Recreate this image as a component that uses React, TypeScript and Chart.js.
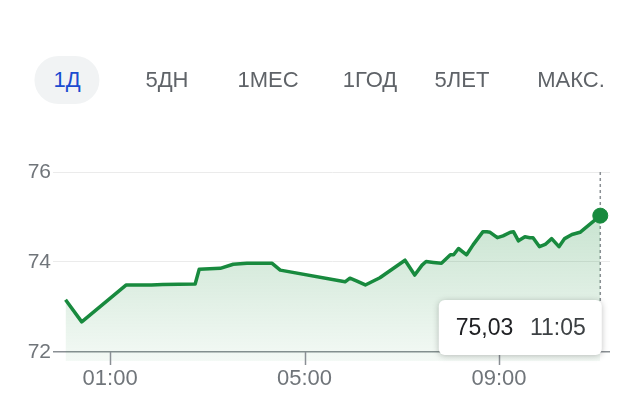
import React, { useEffect, useRef } from "react";
import { Chart, registerables } from "chart.js";

Chart.register(...registerables);

// ---- data ----
const times: string[] = [
  "00:05", "00:25", "01:20", "01:51", "02:05", "02:45", "02:50", "03:16", "03:32", "03:49",
  "04:20", "04:30", "05:50", "05:56", "06:04", "06:15", "06:33", "07:04", "07:16", "07:25",
  "07:30", "07:39", "07:49", "08:00", "08:04", "08:10", "08:20", "08:28", "08:40", "08:45",
  "08:49", "08:58", "09:05", "09:14", "09:18", "09:24", "09:32", "09:38", "09:42", "09:50",
  "09:57", "10:05", "10:14", "10:21", "10:30", "10:40", "11:05",
];
const prices: number[] = [
  73.16, 72.67, 73.49, 73.49, 73.5, 73.51, 73.84, 73.86, 73.95, 73.97,
  73.97, 73.82, 73.56, 73.64, 73.58, 73.49, 73.65, 74.04, 73.71, 73.93,
  74.01, 73.99, 73.97, 74.16, 74.16, 74.3, 74.16, 74.38, 74.67, 74.67,
  74.66, 74.54, 74.58, 74.66, 74.67, 74.47, 74.56, 74.54, 74.54, 74.34,
  74.39, 74.52, 74.34, 74.52, 74.61, 74.66, 75.03,
];
const xTickLabels: string[] = ["01:00", "05:00", "09:00"];
const yTickValues: number[] = [72, 74, 76];
const rangeLabels: string[] = ["1Д", "5ДН", "1МЕС", "1ГОД", "5ЛЕТ", "МАКС."];
const activeRange = "1Д";

// ---- layout / style ----
const rangeCenters = [67, 167, 268, 370, 462, 571];
const GREEN = "#188a3e";
const FONT = "'Liberation Sans', Arial, sans-serif";

const toMin = (t: string) => {
  const [h, m] = t.split(":").map(Number);
  return h * 60 + m;
};
const fmtMin = (v: number) => {
  const h = Math.floor(v / 60);
  const m = Math.round(v - h * 60);
  return String(h).padStart(2, "0") + ":" + String(m).padStart(2, "0");
};

const overlayPlugin = {
  id: "overlay",
  beforeDatasetsDraw(chart: any) {
    const { ctx, chartArea, scales } = chart;
    const meta = chart.getDatasetMeta(0);
    const last = meta.data[meta.data.length - 1];
    const y72 = scales.y.getPixelForValue(yTickValues[0]);
    ctx.save();
    ctx.setLineDash([3, 3]);
    ctx.strokeStyle = "#8a8f94";
    ctx.lineWidth = 1.5;
    ctx.beginPath();
    ctx.moveTo(last.x, chartArea.top);
    ctx.lineTo(last.x, y72 - 50);
    ctx.stroke();
    ctx.restore();
  },
  afterDatasetsDraw(chart: any) {
    const { ctx, chartArea, scales } = chart;
    const xs = scales.x;
    const ys = scales.y;
    const y72 = ys.getPixelForValue(yTickValues[0]);
    // x tick marks
    ctx.save();
    ctx.strokeStyle = "#8a8f94";
    ctx.lineWidth = 1.5;
    xTickLabels.forEach((l) => {
      const px = Math.round(xs.getPixelForValue(toMin(l))) + 0.5;
      ctx.beginPath();
      ctx.moveTo(px, y72);
      ctx.lineTo(px, chartArea.bottom + 4);
      ctx.stroke();
    });
    ctx.restore();

    // tooltip box
    const meta = chart.getDatasetMeta(0);
    const idx = meta.data.length - 1;
    const last = meta.data[idx];
    const right = last.x + 1.5;
    const w = 163;
    const h = 55;
    const left = right - w;
    const top = y72 - 52;
    ctx.save();
    ctx.shadowColor = "rgba(0,0,0,0.25)";
    ctx.shadowBlur = 6;
    ctx.shadowOffsetY = 1;
    ctx.fillStyle = "#ffffff";
    ctx.beginPath();
    (ctx as any).roundRect(left, top, w, h, 6);
    ctx.fill();
    ctx.restore();

    ctx.save();
    ctx.font = `23px ${FONT}`;
    ctx.textBaseline = "alphabetic";
    ctx.fillStyle = "#202124";
    ctx.textAlign = "left";
    ctx.fillText(prices[idx].toFixed(2).replace(".", ","), left + 17, top + 35);
    ctx.fillStyle = "#3c4043";
    ctx.textAlign = "right";
    ctx.fillText(times[idx], right - 16, top + 35);
    ctx.restore();
  },
};

export default function App() {
  const canvasRef = useRef<HTMLCanvasElement | null>(null);

  useEffect(() => {
    const canvas = canvasRef.current;
    if (!canvas) return;
    const lastIdx = prices.length - 1;
    const chart = new Chart(canvas, {
      type: "line",
      data: {
        datasets: [
          {
            data: times.map((t, i) => ({ x: toMin(t), y: prices[i] })),
            borderColor: GREEN,
            borderWidth: 3.5,
            borderJoinStyle: "round",
            tension: 0,
            fill: "start",
            backgroundColor: (context: any) => {
              const { chart } = context;
              const { ctx, chartArea } = chart;
              if (!chartArea) return "rgba(30,142,62,0.15)";
              const g = ctx.createLinearGradient(0, chartArea.top, 0, chartArea.bottom);
              g.addColorStop(0, "rgba(30,142,62,0.3)");
              g.addColorStop(1, "rgba(30,142,62,0.05)");
              return g;
            },
            pointRadius: (c: any) => (c.dataIndex === lastIdx ? 7.5 : 0),
            pointBackgroundColor: GREEN,
            pointBorderColor: GREEN,
            pointBorderWidth: 1,
          },
        ],
      },
      options: {
        responsive: false,
        animation: false,
        events: [],
        layout: { padding: { top: 172, right: 12, left: 0, bottom: 0 } },
        plugins: {
          legend: { display: false },
          tooltip: { enabled: false },
        },
        scales: {
          x: {
            type: "linear",
            min: -8,
            max: 677,
            afterFit: (s: any) => {
              s.height = 59;
            },
            afterBuildTicks: (s: any) => {
              s.ticks = xTickLabels.map((l) => ({ value: toMin(l) }));
            },
            border: { display: false },
            grid: { display: false, drawTicks: false },
            ticks: {
              padding: 5,
              color: "#70757a",
              font: { family: FONT, size: 22 },
              callback: (v: any) => fmtMin(Number(v)),
              maxRotation: 0,
              autoSkip: false,
            },
          },
          y: {
            min: 71.8,
            max: 76,
            afterFit: (s: any) => {
              s.width = 55;
            },
            afterBuildTicks: (s: any) => {
              s.ticks = yTickValues.map((v) => ({ value: v }));
            },
            border: { display: false },
            grid: {
              color: (c: any) => (c.tick && c.tick.value === yTickValues[0] ? "#8a8f94" : "#ebebeb"),
              lineWidth: (c: any) => (c.tick && c.tick.value === yTickValues[0] ? 1.5 : 1),
              drawTicks: true,
              tickLength: 2,
            },
            ticks: {
              padding: 2,
              color: "#70757a",
              font: { family: FONT, size: 21 },
              autoSkip: false,
            },
          },
        },
      },
      plugins: [overlayPlugin],
    } as any);
    return () => chart.destroy();
  }, []);

  return (
    <div
      style={{
        position: "fixed",
        left: 0,
        top: 0,
        width: 622,
        height: 420,
        background: "#ffffff",
        fontFamily: FONT,
      }}
    >
      <canvas
        ref={canvasRef}
        width={622}
        height={420}
        style={{ position: "absolute", left: 0, top: 0, width: 622, height: 420 }}
      />
      {rangeLabels.map((label, i) => {
        const active = label === activeRange;
        return (
          <div
            key={label}
            style={{
              position: "absolute",
              top: 56,
              left: rangeCenters[i],
              transform: "translateX(-50%)",
              height: 48,
              lineHeight: "48px",
              padding: active ? "0 19px" : "0",
              borderRadius: 24,
              background: active ? "#f1f3f4" : "transparent",
              color: active ? "#1a4bd0" : "#5f6368",
              fontSize: 22,
              whiteSpace: "nowrap",
            }}
          >
            {label}
          </div>
        );
      })}
    </div>
  );
}
